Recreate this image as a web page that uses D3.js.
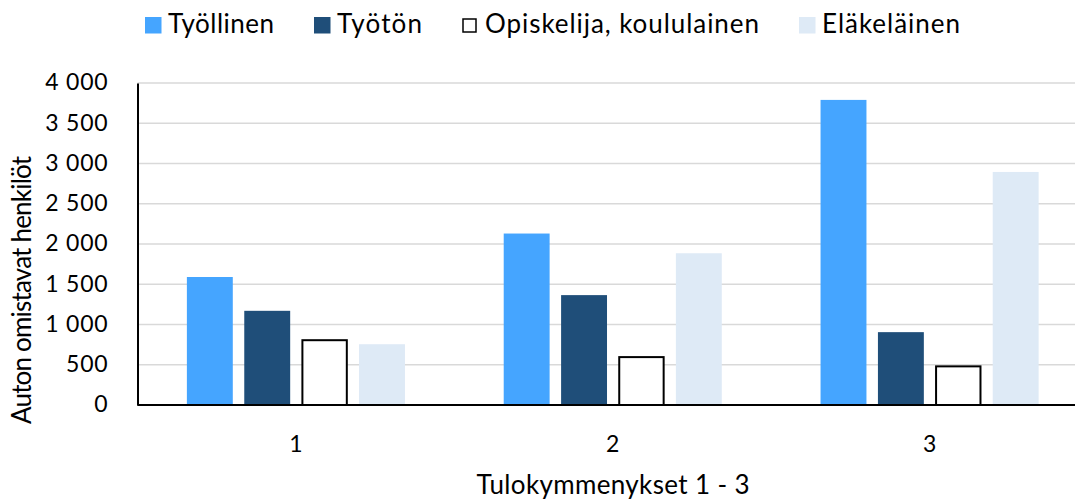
<!DOCTYPE html>
<html>
<head>
<meta charset="utf-8">
<script src="https://cdn.jsdelivr.net/npm/d3@7/dist/d3.min.js"></script>
<style>
  html, body { margin: 0; padding: 0; background: #fff; }
  svg { display: block; }
  text { font-family: Lato, "Open Sans", sans-serif; fill: #000; }
</style>
</head>
<body>
<svg id="chart" width="1075" height="501"></svg>
<script>
// ---- data ----
const categories = ["1", "2", "3"];
const seriesNames = ["Työllinen", "Työtön", "Opiskelija, koululainen", "Eläkeläinen"];
const tyollinen   = [1590, 2130, 3790];
const tyoton      = [1170, 1365, 905];
const opiskelija  = [805, 595, 480];
const elakelainen = [755, 1885, 2895];
const yTickValues = [0, 500, 1000, 1500, 2000, 2500, 3000, 3500, 4000];
const yTickLabels = ["0", "500", "1 000", "1 500", "2 000", "2 500", "3 000", "3 500", "4 000"];
const xTitle = "Tulokymmenykset 1 - 3";
const yTitle = "Auton omistavat henkilöt";

const seriesValues = [tyollinen, tyoton, opiskelija, elakelainen];
const fills   = ["#45A5FF", "#1F4E79", "#FFFFFF", "#DEEAF6"];
const strokes = [null, null, "#000000", null];

// ---- layout ----
const svg = d3.select("#chart");
const mLeft = 137.5, mRight = 1088, mTop = 83, mBottom = 405;

const x0 = d3.scaleBand().domain(categories).range([mLeft, mRight])
  .paddingInner(0.3117).paddingOuter(0.3117 / 2);
const x1 = d3.scaleBand().domain(d3.range(seriesNames.length))
  .range([0, x0.bandwidth()]).paddingInner(0.2).paddingOuter(0);
const y = d3.scaleLinear().domain([0, 4000]).range([mBottom, mTop]);

// gridlines
svg.append("g")
  .selectAll("line")
  .data(yTickValues.filter(v => v > 0))
  .join("line")
  .attr("x1", mLeft).attr("x2", 1075)
  .attr("y1", d => y(d)).attr("y2", d => y(d))
  .attr("stroke", "#D9D9D9").attr("stroke-width", 1.5);

// bars
const groups = svg.append("g")
  .selectAll("g")
  .data(categories)
  .join("g")
  .attr("transform", d => `translate(${x0(d)},0)`);

groups.selectAll("rect")
  .data((d, i) => seriesValues.map((vals, s) => ({ s, v: vals[i] })))
  .join("rect")
  .attr("x", d => x1(d.s) + (strokes[d.s] ? 0.75 : 0))
  .attr("width", d => x1.bandwidth() - (strokes[d.s] ? 1.5 : 0))
  .attr("y", d => y(d.v))
  .attr("height", d => y(0) - y(d.v))
  .attr("fill", d => fills[d.s])
  .attr("stroke", d => strokes[d.s] || "none")
  .attr("stroke-width", 2);

// y axis
const yAxis = svg.append("g")
  .attr("transform", `translate(${mLeft},0)`)
  .call(d3.axisLeft(y).tickValues(yTickValues)
    .tickFormat((d, i) => yTickLabels[i]).tickSize(0).tickPadding(29));
yAxis.select(".domain").attr("stroke", "#000").attr("stroke-width", 2);
yAxis.selectAll("text").attr("font-size", 23).attr("letter-spacing", 0.8)
  .attr("font-family", "Lato").attr("dy", "0.3em");

// x axis
const xAxis = svg.append("g")
  .attr("transform", `translate(0,${mBottom})`)
  .call(d3.axisBottom(x0).tickSize(0).tickPadding(31));
xAxis.select(".domain").attr("d", `M${mLeft},0H1075`).attr("stroke", "#000").attr("stroke-width", 2);
xAxis.selectAll("text").attr("font-size", 23).attr("font-family", "Lato");

// axis titles
svg.append("text")
  .attr("x", 613).attr("y", 494)
  .attr("text-anchor", "middle")
  .attr("font-size", 26)
  .attr("textLength", 273)
  .text(xTitle);

svg.append("text")
  .attr("transform", "translate(31,290) rotate(-90)")
  .attr("text-anchor", "middle")
  .attr("font-size", 26)
  .attr("textLength", 268)
  .text(yTitle);

// legend
const legendWidths = [106, 85, 274, 138];
const legend = svg.append("g");
let lx = 145;
seriesNames.forEach((name, i) => {
  const sq = strokes[i] ? 13 : 16.5;
  legend.append("rect")
    .attr("x", lx + (strokes[i] ? 1 : 0)).attr("y", strokes[i] ? 19 : 17)
    .attr("width", sq).attr("height", sq)
    .attr("fill", fills[i])
    .attr("stroke", strokes[i] || "none").attr("stroke-width", 1.5);
  legend.append("text")
    .attr("x", lx + 23).attr("y", 33)
    .attr("font-size", 26)
    .attr("textLength", legendWidths[i])
    .text(name);
  lx += 23 + legendWidths[i] + 40;
});
</script>
</body>
</html>
